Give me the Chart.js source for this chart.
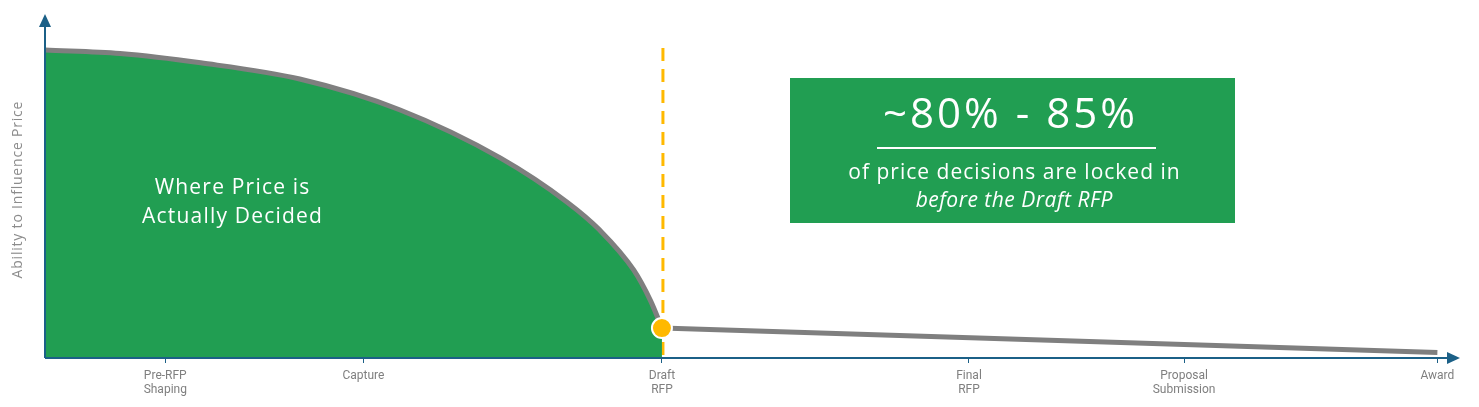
<!DOCTYPE html>
<html>
<head>
<meta charset="utf-8">
<script src="https://cdn.jsdelivr.net/npm/chart.js@4"></script>
<style>
  html, body { margin: 0; padding: 0; background: #fff; }
  #wrap { width: 1479px; height: 407px; position: relative; }
</style>
</head>
<body>
<div id="wrap"><canvas id="priceChart"></canvas></div>
<script>
// stages along the procurement timeline
const stageLabels = [["Pre-RFP", "Shaping"], "Capture", ["Draft", "RFP"], ["Final", "RFP"], ["Proposal", "Submission"], "Award"];
const stagePositions = [8.5, 22.5, 43.6, 65.3, 80.5, 98.4];

// ability to influence price (0-100)
const curveX = [0, 5.3, 11.0, 18.0, 25.1, 32.2, 36.9, 39.2, 41.6, 42.8, 43.6];
const curveY = [89.5, 88.5, 85.8, 81.1, 72.1, 58.1, 45.3, 37.2, 25.6, 16.6, 8.7];

const tailX = [43.6, 98.4];
const tailY = [8.7, 1.6];

const draftIndex = 2;
const axisColor = "#1b6087";
const green = "#219e52";

const axisArrows = {
    id: "axisArrows",
    afterDraw(chart) {
        const { ctx, chartArea } = chart;
        const l = chartArea.left, b = chartArea.bottom;
        ctx.save();
        ctx.strokeStyle = axisColor;
        ctx.fillStyle = axisColor;
        ctx.lineWidth = 2;
        ctx.beginPath();
        ctx.moveTo(l, b);
        ctx.lineTo(l, 24);
        ctx.moveTo(l, b);
        ctx.lineTo(chartArea.right - 10, b);
        ctx.stroke();
        ctx.beginPath();
        ctx.moveTo(l, 14);
        ctx.lineTo(l - 6, 27);
        ctx.lineTo(l + 6, 27);
        ctx.closePath();
        ctx.fill();
        ctx.beginPath();
        ctx.moveTo(chartArea.right, b);
        ctx.lineTo(chartArea.right - 13, b - 6);
        ctx.lineTo(chartArea.right - 13, b + 6);
        ctx.closePath();
        ctx.fill();
        ctx.restore();
    }
};

const draftLine = {
    id: "draftLine",
    beforeDatasetsDraw(chart) {
        const { ctx } = chart;
        const x = chart.scales.x.getPixelForValue(stagePositions[draftIndex]) + 1;
        ctx.save();
        ctx.strokeStyle = "#ffb900";
        ctx.lineWidth = 3;
        ctx.setLineDash([13, 8]);
        ctx.beginPath();
        ctx.moveTo(x, 48);
        ctx.lineTo(x, 362);
        ctx.stroke();
        ctx.restore();
    }
};

function spacedText(ctx, text, x, y, font, spacing) {
    ctx.font = font;
    ctx.letterSpacing = spacing + "px";
    ctx.fillText(text, x + spacing / 2, y);
}

const annotations = {
    id: "annotations",
    afterDraw(chart) {
        const { ctx } = chart;
        ctx.save();
        ctx.fillStyle = "#fff";
        ctx.textAlign = "center";
        ctx.textBaseline = "middle";
        spacedText(ctx, "Where Price is", 232, 188, "21px 'Open Sans'", 1.2);
        spacedText(ctx, "Actually Decided", 232, 217, "21px 'Open Sans'", 1.2);

        ctx.fillStyle = green;
        ctx.fillRect(790, 78, 445, 145);
        ctx.fillStyle = "#fff";
        spacedText(ctx, "~80% - 85%", 1009, 116, "42px 'Open Sans'", 3);
        ctx.fillRect(877, 147, 279, 2);
        spacedText(ctx, "of price decisions are locked in", 1014, 173, "21px 'Open Sans'", 1);
        spacedText(ctx, "before the Draft RFP", 1014, 201, "italic 21px 'Open Sans'", 0.5);

        ctx.translate(18, 190);
        ctx.rotate(-Math.PI / 2);
        ctx.fillStyle = "#8c8c8c";
        spacedText(ctx, "Ability to Influence Price", 0, 0, "14px 'Open Sans'", 0.8);
        ctx.restore();
    }
};

new Chart(document.getElementById("priceChart").getContext("2d"), {
    type: "line",
    data: {
        datasets: [
            {
                data: curveX.map((x, i) => ({ x: x, y: curveY[i] })),
                borderColor: "#7f7f7f",
                borderWidth: 5,
                backgroundColor: green,
                fill: "origin",
                pointRadius: 0,
                cubicInterpolationMode: "monotone",
                order: 2
            },
            {
                data: tailX.map((x, i) => ({ x: x, y: tailY[i] })),
                borderColor: "#7f7f7f",
                borderWidth: 5,
                fill: false,
                pointRadius: 0,
                order: 2
            },
            {
                data: [{ x: tailX[0], y: tailY[0] }],
                showLine: false,
                pointRadius: 10,
                pointBackgroundColor: "#ffb900",
                pointBorderColor: "#fff",
                pointBorderWidth: 2,
                order: 1
            }
        ]
    },
    options: {
        responsive: true,
        maintainAspectRatio: false,
        animation: false,
        layout: { padding: { left: 45, right: 19, top: 14, bottom: 0 } },
        plugins: {
            legend: { display: false },
            tooltip: { enabled: false }
        },
        scales: {
            x: {
                type: "linear",
                min: 0,
                max: 100,
                afterBuildTicks: (scale) => {
                    scale.ticks = stagePositions.map(v => ({ value: v }));
                },
                afterFit: (scale) => { scale.height = 49; },
                ticks: {
                    autoSkip: false,
                    maxRotation: 0,
                    padding: 6,
                    color: "#7f7f7f",
                    font: { family: "'Liberation Sans Narrow', 'Roboto'", size: 12, lineHeight: 1.15 },
                    callback: (value) => stageLabels[stagePositions.indexOf(value)]
                },
                grid: {
                    drawOnChartArea: false,
                    drawTicks: true,
                    tickLength: 5,
                    color: axisColor
                },
                border: { display: false }
            },
            y: {
                display: false,
                min: 0,
                max: 100
            }
        }
    },
    plugins: [draftLine, axisArrows, annotations]
});
</script>
</body>
</html>
